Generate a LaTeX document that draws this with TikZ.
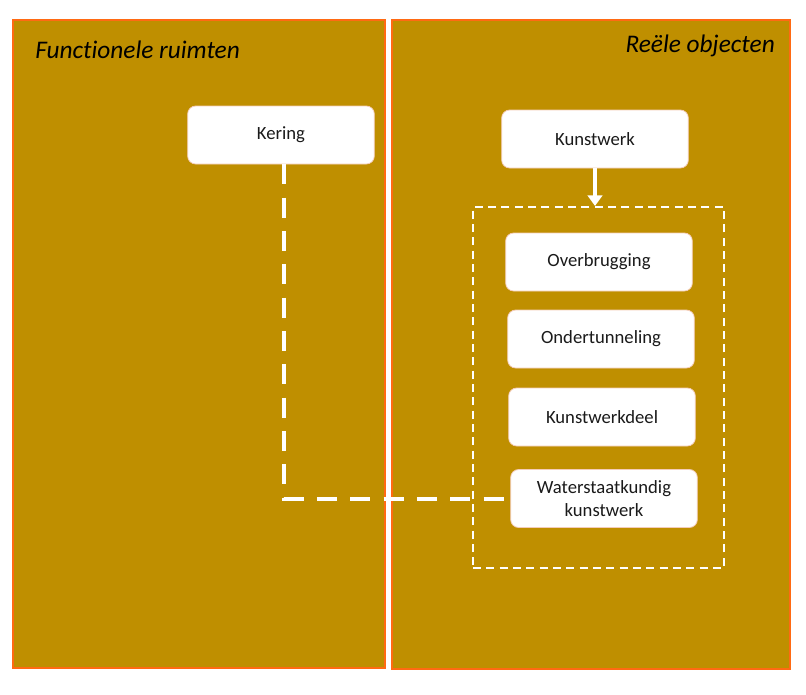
\documentclass[tikz,border=0pt]{standalone}
\usepackage{fontspec}
\setmainfont{Carlito}[Ligatures=NoCommon]
\usepackage{xcolor}
\definecolor{panelGold}{HTML}{BF8F00}
\definecolor{panelEdge}{HTML}{FF6A13}
\definecolor{boxEdge}{HTML}{F4CCB8}
\definecolor{darkText}{HTML}{1A1A1A}
\usetikzlibrary{arrows.meta, positioning}

\begin{document}
\begin{tikzpicture}[
    x=0.75pt, y=-0.75pt,
    font=\fontsize{14}{17}\selectfont,
    panelBox/.style={fill=panelGold, draw=panelEdge, line width=1.2pt},
    titleNode/.style={font=\itshape\fontsize{19}{22}\selectfont, text=black, inner sep=0pt},
    objNode/.style={fill=white, draw=boxEdge, line width=0.6pt, rounded corners=6pt, minimum width=140pt, minimum height=43.5pt, align=center, text=darkText, inner sep=2pt},
    groupFrame/.style={draw=white, dashed, dash pattern=on 6pt off 4pt, line width=1.6pt, minimum width=188.25pt, minimum height=270.75pt, inner sep=0pt},
    arrLine/.style={-{Triangle[length=8pt, width=11pt]}, draw=white, line width=3pt},
    linkLine/.style={draw=white, line width=3pt, dash pattern=on 15pt off 10pt}
]
\useasboundingbox (0,0) rectangle (806,694);

% panels
\draw[panelBox] (13,20) rectangle (385,668);
\draw[panelBox] (392,20) rectangle (790,669);
\node[titleNode, anchor=west] (t_func) at (35,50) {Functionele ruimten};
\node[titleNode, anchor=east] (t_reel) at (775,46) {Reële objecten};

% objects
\node[objNode] (kering) at (281,135) {Kering};
\node[objNode] (kunstwerk) at (595,139) {Kunstwerk};
\node[groupFrame] (frame) at (598.5,387.5) {};
\node[objNode] (overbrugging) at (599,262) {Overbrugging};
\node[objNode] (ondertunneling) at (601,339) {Ondertunneling};
\node[objNode] (kwdeel) at (602,417) {Kunstwerkdeel};
\node[objNode] (waterstaat) at (604,498.5) {Waterstaatkundig\\kunstwerk};

% connectors
\draw[arrLine] (kunstwerk.south) -- (kunstwerk.south |- frame.north);
\draw[linkLine] ([xshift=2.5pt]kering.south) |- (waterstaat.west);

\end{tikzpicture}
\end{document}
